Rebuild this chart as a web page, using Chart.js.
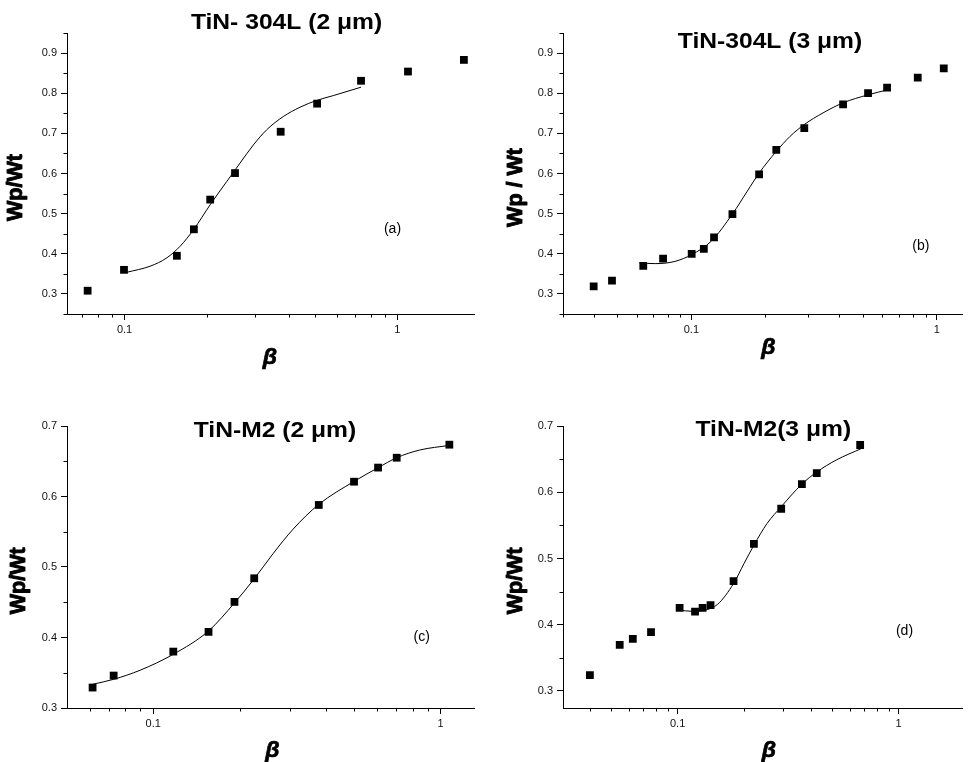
<!DOCTYPE html>
<html>
<head>
<meta charset="utf-8">
<title>Wp/Wt vs beta - TiN coatings</title>
<script src="https://cdn.jsdelivr.net/npm/chart.js@4.4.1/dist/chart.umd.min.js"></script>
<style>
  body { margin: 0; background: #fff; }
  #page { position: relative; width: 968px; height: 762px; overflow: hidden; background: #fff; }
  #page canvas { position: absolute; }
</style>
</head>
<body>
<div id="page">
  <canvas id="chartA" width="484" height="381" style="left:0;top:0"></canvas>
  <canvas id="chartB" width="484" height="381" style="left:484px;top:0"></canvas>
  <canvas id="chartC" width="484" height="381" style="left:0;top:381px"></canvas>
  <canvas id="chartD" width="484" height="381" style="left:484px;top:381px"></canvas>
</div>
<script>
// (a) TiN-304L, 2 um
const aBeta  = [0.0732, 0.0995, 0.1555, 0.1795, 0.206, 0.254, 0.3735, 0.508, 0.736, 1.094, 1.754];
const aRatio = [0.308, 0.360, 0.395, 0.461, 0.535, 0.601, 0.704, 0.774, 0.831, 0.854, 0.883];
const aFitBeta  = [0.102, 0.124, 0.1429, 0.1599, 0.1794, 0.2059, 0.2369, 0.265, 0.2965, 0.332, 0.382, 0.4395, 0.506, 0.582, 0.736];
const aFitRatio = [0.354, 0.369, 0.390, 0.419, 0.461, 0.522, 0.580, 0.626, 0.671, 0.709, 0.742, 0.765, 0.782, 0.794, 0.815];

// (b) TiN-304L, 3 um
const bBeta  = [0.040, 0.0475, 0.0637, 0.0767, 0.1003, 0.1124, 0.1237, 0.147, 0.1888, 0.2218, 0.2884, 0.415, 0.5245, 0.627, 0.836, 1.067];
const bRatio = [0.319, 0.333, 0.370, 0.388, 0.400, 0.412, 0.441, 0.499, 0.598, 0.659, 0.713, 0.772, 0.800, 0.814, 0.839, 0.862];
const bFitBeta  = [0.0614, 0.0712, 0.0857, 0.1003, 0.1203, 0.147, 0.169, 0.1888, 0.2218, 0.2524, 0.2884, 0.3439, 0.415, 0.5245, 0.637];
const bFitRatio = [0.377, 0.3755, 0.381, 0.398, 0.431, 0.499, 0.556, 0.601, 0.655, 0.6925, 0.722, 0.751, 0.776, 0.796, 0.809];

// (c) TiN-M2, 2 um
const cBeta  = [0.0615, 0.0728, 0.1174, 0.1557, 0.1917, 0.2245, 0.3766, 0.4995, 0.6056, 0.7031, 1.072];
const cRatio = [0.329, 0.346, 0.380, 0.408, 0.4505, 0.484, 0.588, 0.621, 0.641, 0.655, 0.6735];
const cFitBeta  = [0.0615, 0.0728, 0.0899, 0.1174, 0.1557, 0.1917, 0.2245, 0.2614, 0.3066, 0.3766, 0.4995, 0.6056, 0.7031, 0.845, 1.072];
const cFitRatio = [0.3336, 0.3407, 0.3535, 0.3762, 0.4093, 0.4491, 0.4832, 0.5192, 0.5537, 0.5888, 0.6214, 0.6408, 0.655, 0.6659, 0.6725];

// (d) TiN-M2, 3 um
const dBeta  = [0.0401, 0.0547, 0.0627, 0.0758, 0.1021, 0.1199, 0.1297, 0.1409, 0.1791, 0.2214, 0.2942, 0.365, 0.4261, 0.6697];
const dRatio = [0.324, 0.3695, 0.3786, 0.3887, 0.4254, 0.4199, 0.4254, 0.4295, 0.4657, 0.5222, 0.5751, 0.6123, 0.629, 0.6713];
const dFitBeta  = [0.1021, 0.1155, 0.1324, 0.1519, 0.1791, 0.1998, 0.2214, 0.254, 0.2942, 0.365, 0.4261, 0.5217, 0.6811];
const dFitRatio = [0.4219, 0.4204, 0.4219, 0.431, 0.4622, 0.4924, 0.5201, 0.5529, 0.5781, 0.6123, 0.6305, 0.6486, 0.6662];

// ticks
const xMajorTicks = [0.1, 1];
const xMinorTicks = [0.03, 0.04, 0.05, 0.06, 0.07, 0.08, 0.09, 0.2, 0.3, 0.4, 0.5, 0.6, 0.7, 0.8, 0.9, 2];
const yTicksTop = [0.3, 0.4, 0.5, 0.6, 0.7, 0.8, 0.9];
const yMinorTop = [0.25, 0.35, 0.45, 0.55, 0.65, 0.75, 0.85, 0.95];
const yTicksBottom = [0.3, 0.4, 0.5, 0.6, 0.7];
const yMinorBottom = [0.35, 0.45, 0.55, 0.65];

const FONT = '"Liberation Sans", Arial, Helvetica, sans-serif';

// minor ticks + all the free text (titles, axis names, panel letters)
const panelDecor = {
  id: 'panelDecor',
  afterDraw(chart, args, o) {
    const ctx = chart.ctx;
    const area = chart.chartArea;
    const xs = chart.scales.x, ys = chart.scales.y;
    ctx.save();
    ctx.strokeStyle = '#000';
    ctx.lineWidth = 1;
    ctx.beginPath();
    xMinorTicks.forEach(v => {
      if (v < xs.min || v > xs.max) return;
      const px = Math.round(xs.getPixelForValue(v)) + 0.5;
      ctx.moveTo(px, Math.round(area.bottom));
      ctx.lineTo(px, Math.round(area.bottom) + 3.5);
    });
    o.yMinor.forEach(v => {
      if (v < ys.min || v > ys.max) return;
      const py = Math.round(ys.getPixelForValue(v)) + 0.5;
      ctx.moveTo(Math.round(area.left) - 3.5, py);
      ctx.lineTo(Math.round(area.left), py);
    });
    ctx.stroke();

    ctx.fillStyle = '#000';
    ctx.textAlign = 'center';
    ctx.textBaseline = 'alphabetic';

    // title, slightly widened like the original
    ctx.save();
    ctx.font = 'bold 22px ' + FONT;
    ctx.translate(o.title.x, o.title.y);
    ctx.scale(1.12, 1);
    ctx.fillText(o.title.text, 0, 0);
    ctx.restore();

    // y axis name (heavy)
    ctx.save();
    ctx.font = 'bold 21.5px ' + FONT;
    ctx.lineWidth = 0.9;
    ctx.lineJoin = 'round';
    ctx.translate(o.yName.x, o.yName.y);
    ctx.rotate(-Math.PI / 2);
    ctx.fillText(o.yName.text, 0, 0);
    ctx.strokeText(o.yName.text, 0, 0);
    ctx.restore();

    // x axis name
    ctx.font = 'italic bold 23px ' + FONT;
    ctx.lineWidth = 0.7;
    ctx.fillText('β', o.xName.x, o.xName.y);
    ctx.strokeText('β', o.xName.x, o.xName.y);

    // panel letter
    ctx.font = '14px ' + FONT;
    ctx.fillText(o.letter.text, o.letter.x, o.letter.y);
    ctx.restore();
  }
};

function pts(xs, ys) {
  return xs.map((x, i) => ({ x: x, y: ys[i] }));
}

function makePanel(id, p) {
  const tickFont = { family: FONT, size: 11 };
  return new Chart(document.getElementById(id), {
    type: 'scatter',
    data: {
      datasets: [
        {
          data: pts(p.beta, p.ratio),
          pointStyle: 'rect',
          pointRadius: 5.5,
          pointHoverRadius: 5.5,
          backgroundColor: '#000',
          borderWidth: 0
        },
        {
          data: pts(p.fitBeta, p.fitRatio),
          showLine: true,
          pointRadius: 0,
          borderColor: '#000',
          borderWidth: 1,
          cubicInterpolationMode: 'monotone',
          fill: false
        }
      ]
    },
    options: {
      responsive: false,
      animation: false,
      events: [],
      layout: { padding: p.padding },
      plugins: {
        legend: { display: false },
        tooltip: { enabled: false },
        panelDecor: p.decor
      },
      scales: {
        x: {
          type: 'logarithmic',
          position: 'bottom',
          min: p.xMin,
          max: p.xMax,
          afterBuildTicks: s => { s.ticks = xMajorTicks.map(v => ({ value: v, major: true })); },
          afterFit: s => { s.height = p.xAxisHeight; },
          ticks: {
            color: '#111',
            font: tickFont,
            padding: 3,
            maxRotation: 0,
            autoSkip: false,
            callback: v => (v >= 1 ? v.toFixed(0) : String(v))
          },
          grid: { display: true, drawOnChartArea: false, tickLength: 6, tickColor: '#000', tickWidth: 1 },
          border: { display: true, color: '#000', width: 1 }
        },
        y: {
          type: 'linear',
          position: 'left',
          min: p.yMin,
          max: p.yMax,
          afterBuildTicks: s => { s.ticks = p.yTicks.map(v => ({ value: v })); },
          afterFit: s => { s.width = p.yAxisWidth; },
          ticks: {
            color: '#111',
            font: tickFont,
            padding: 4,
            autoSkip: false,
            callback: v => v.toFixed(1)
          },
          grid: { display: true, drawOnChartArea: false, tickLength: 6, tickColor: '#000', tickWidth: 1 },
          border: { display: true, color: '#000', width: 1 }
        }
      }
    },
    plugins: [panelDecor]
  });
}

makePanel('chartA', {
  beta: aBeta, ratio: aRatio, fitBeta: aFitBeta, fitRatio: aFitRatio,
  xMin: 0.0615, xMax: 1.91, yMin: 0.25, yMax: 0.95, yTicks: yTicksTop,
  padding: { left: 0, top: 33, right: 10, bottom: 0 }, yAxisWidth: 67, xAxisHeight: 67,
  decor: {
    yMinor: yMinorTop,
    title: { text: 'TiN- 304L (2 μm)', x: 286.5, y: 29.3 },
    yName: { text: 'Wp/Wt', x: 22, y: 187.5 },
    xName: { x: 270, y: 363.5 },
    letter: { text: '(a)', x: 392.5, y: 233 }
  }
});

makePanel('chartB', {
  beta: bBeta, ratio: bRatio, fitBeta: bFitBeta, fitRatio: bFitRatio,
  xMin: 0.030, xMax: 1.272, yMin: 0.25, yMax: 0.95, yTicks: yTicksTop,
  padding: { left: 0, top: 33, right: 0, bottom: 0 }, yAxisWidth: 79, xAxisHeight: 67,
  decor: {
    yMinor: yMinorTop,
    title: { text: 'TiN-304L (3 μm)', x: 286, y: 47.7 },
    yName: { text: 'Wp / Wt', x: 38, y: 187.5 },
    xName: { x: 284.3, y: 353.5 },
    letter: { text: '(b)', x: 436.8, y: 250 }
  }
});

makePanel('chartC', {
  beta: cBeta, ratio: cRatio, fitBeta: cFitBeta, fitRatio: cFitRatio,
  xMin: 0.0501, xMax: 1.306, yMin: 0.3, yMax: 0.7, yTicks: yTicksBottom,
  padding: { left: 0, top: 45, right: 10, bottom: 0 }, yAxisWidth: 67, xAxisHeight: 54,
  decor: {
    yMinor: yMinorBottom,
    title: { text: 'TiN-M2 (2 μm)', x: 275, y: 55.7 },
    yName: { text: 'Wp/Wt', x: 25.4, y: 199.8 },
    xName: { x: 272.5, y: 376 },
    letter: { text: '(c)', x: 421.7, y: 260 }
  }
});

makePanel('chartD', {
  beta: dBeta, ratio: dRatio, fitBeta: dFitBeta, fitRatio: dFitRatio,
  xMin: 0.0303, xMax: 1.945, yMin: 0.2743, yMax: 0.7, yTicks: yTicksBottom,
  padding: { left: 0, top: 45, right: 0, bottom: 0 }, yAxisWidth: 79, xAxisHeight: 54,
  decor: {
    yMinor: yMinorBottom,
    title: { text: 'TiN-M2(3 μm)', x: 289.3, y: 55 },
    yName: { text: 'Wp/Wt', x: 38, y: 199.8 },
    xName: { x: 285, y: 376 },
    letter: { text: '(d)', x: 420.5, y: 254.2 }
  }
});
</script>
</body>
</html>
